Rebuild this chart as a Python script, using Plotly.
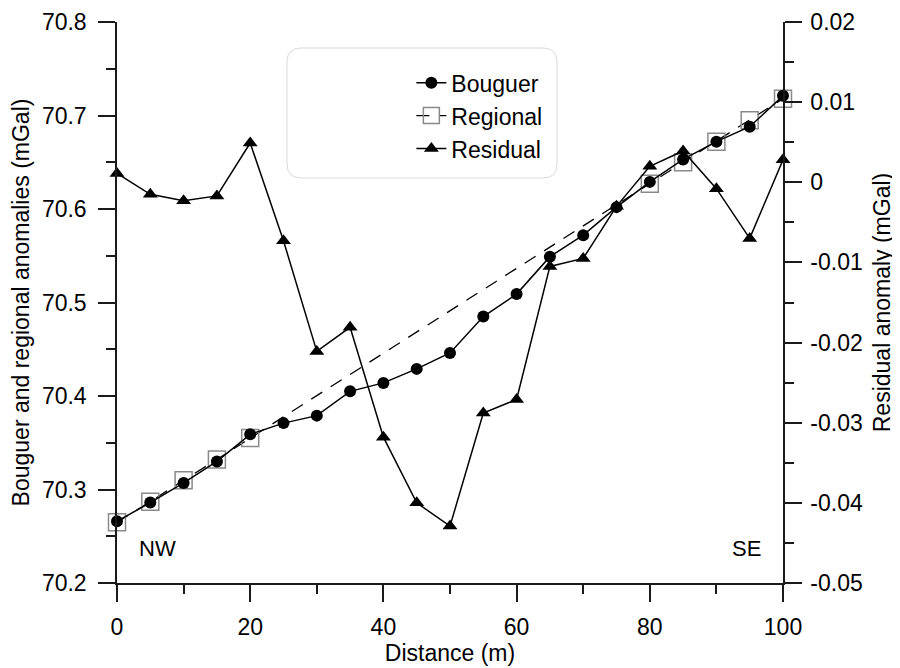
import plotly.graph_objects as go

# ---- data ----
distance = [0, 5, 10, 15, 20, 25, 30, 35, 40, 45, 50, 55, 60, 65, 70, 75, 80, 85, 90, 95, 100]
bouguer = [70.266, 70.286, 70.307, 70.330, 70.359, 70.371, 70.379, 70.405, 70.414, 70.429,
           70.446, 70.485, 70.509, 70.549, 70.572, 70.602, 70.629, 70.653, 70.672, 70.688, 70.721]
regional_x = [0, 5, 10, 15, 20, 80, 85, 90, 95, 100]
regional = [70.265, 70.287, 70.310, 70.332, 70.355, 70.627, 70.650, 70.672, 70.695, 70.718]
residual = [0.0011, -0.0015, -0.0023, -0.0017, 0.0049, -0.0073, -0.0211, -0.0181, -0.0318, -0.0400,
            -0.0429, -0.0288, -0.0271, -0.0105, -0.0095, -0.0030, 0.0020, 0.0039, -0.0008, -0.0070, 0.0028]

left_ticks = [70.2, 70.3, 70.4, 70.5, 70.6, 70.7, 70.8]
left_ticklabels = ["70.2", "70.3", "70.4", "70.5", "70.6", "70.7", "70.8"]
right_ticks = [-0.05, -0.04, -0.03, -0.02, -0.01, 0, 0.01, 0.02]
right_ticklabels = ["-0.05", "-0.04", "-0.03", "-0.02", "-0.01", "0", "0.01", "0.02"]
x_ticks = [0, 20, 40, 60, 80, 100]

FONT = "Liberation Sans, Arial, sans-serif"
AX = "#1a1a1a"

fig = go.Figure()

fig.add_trace(go.Scatter(
    x=regional_x, y=regional, name="Regional", mode="lines+markers",
    line=dict(color="black", width=1.3, dash="13px,10px"),
    marker=dict(symbol="square-open", size=17, color="#8a8a8a", line=dict(width=1.5, color="#8a8a8a")),
    cliponaxis=False, legendrank=2, legendgroup="b"))

fig.add_trace(go.Scatter(
    x=distance, y=bouguer, name="Bouguer", mode="lines+markers",
    line=dict(color="black", width=1.5),
    marker=dict(symbol="circle", size=12, color="black"),
    cliponaxis=False, legendrank=1, legendgroup="a"))

fig.add_trace(go.Scatter(
    x=distance, y=residual, name="Residual", mode="lines+markers", yaxis="y2",
    line=dict(color="black", width=1.5),
    marker=dict(symbol="triangle-up", size=13, color="black"),
    cliponaxis=False, legendrank=3, legendgroup="c"))

common = dict(showgrid=False, zeroline=False, showline=True, linecolor=AX, linewidth=1.5,
              ticks="outside", ticklen=17, tickwidth=1.5, tickcolor=AX, automargin=False,
              tickfont=dict(family=FONT, size=23, color="black"))

fig.update_layout(
    width=900, height=668,
    margin=dict(l=109, r=125, t=14, b=93),
    paper_bgcolor="white", plot_bgcolor="white",
    font=dict(family=FONT, size=23, color="black"),
    xaxis=dict(range=[0, 100], tickvals=x_ticks,
               minor=dict(dtick=10, tick0=0, ticks="outside", ticklen=9, tickwidth=1.5, tickcolor=AX),
               title=dict(text="Distance (m)", font=dict(family=FONT, size=23), standoff=2),
               ticklabelstandoff=6,
               **common),
    yaxis=dict(range=[70.2, 70.8], tickvals=left_ticks, ticktext=left_ticklabels,
               minor=dict(dtick=0.05, tick0=70.2, ticks="outside", ticklen=9, tickwidth=1.5, tickcolor=AX),
               title=dict(text="Bouguer and regional anomalies (mGal)", font=dict(family=FONT, size=23), standoff=6),
               ticklabelstandoff=7,
               **common),
    yaxis2=dict(range=[-0.05, 0.02], tickvals=right_ticks, ticktext=right_ticklabels,
                overlaying="y", side="right", anchor="x",
                minor=dict(dtick=0.005, tick0=-0.05, ticks="outside", ticklen=9, tickwidth=1.5, tickcolor=AX),
                title=dict(text="Residual anomaly (mGal)", font=dict(family=FONT, size=23), standoff=12),
                ticklabelstandoff=4,
                **common),
    legend=dict(x=0.442, y=0.93, xanchor="left", yanchor="top",
                bgcolor="rgba(0,0,0,0)", borderwidth=0,
                font=dict(family=FONT, size=23, color="black"),
                tracegroupgap=0),
    showlegend=True,
)

# rounded legend frame
x0, x1 = (287 - 117) / 666, (557 - 117) / 666
y0, y1 = (583 - 178) / 561, (583 - 48) / 561
rx, ry = 14 / 666, 14 / 561
path = (f"M{x0+rx},{y1} L{x1-rx},{y1} Q{x1},{y1} {x1},{y1-ry} L{x1},{y0+ry} Q{x1},{y0} {x1-rx},{y0} "
        f"L{x0+rx},{y0} Q{x0},{y0} {x0},{y0+ry} L{x0},{y1-ry} Q{x0},{y1} {x0+rx},{y1} Z")
fig.add_shape(type="path", xref="paper", yref="paper", path=path,
              line=dict(color="#d9d9d9", width=1), fillcolor="white", layer="above")

fig.add_annotation(x=3, y=0.062, xref="x", yref="paper", text="NW", showarrow=False,
                   xanchor="left", yanchor="middle", font=dict(family=FONT, size=22, color="black"))
fig.add_annotation(x=97, y=0.062, xref="x", yref="paper", text="SE", showarrow=False,
                   xanchor="right", yanchor="middle", font=dict(family=FONT, size=22, color="black"))

fig.write_html("out.html")
